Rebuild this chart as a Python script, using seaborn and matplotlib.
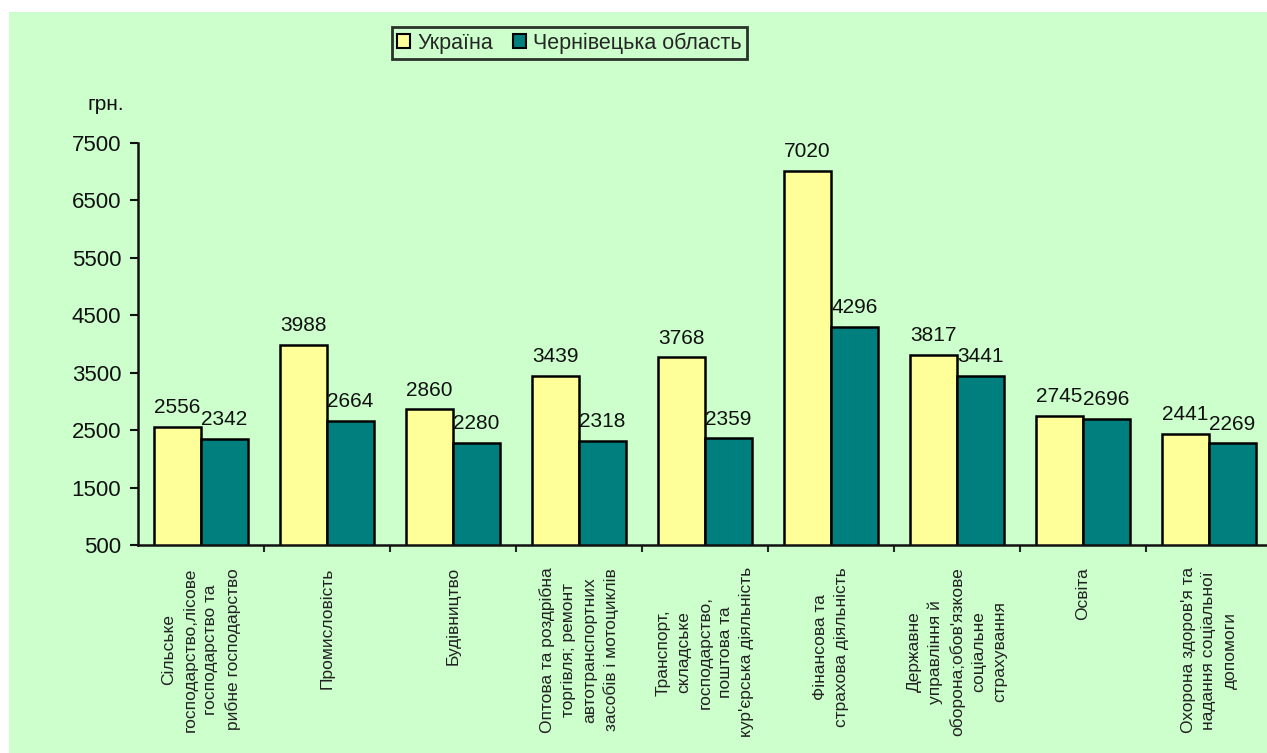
import numpy as np
import pandas as pd
import seaborn as sns
import matplotlib.pyplot as plt
from matplotlib.patches import Rectangle

sectors = [
    "Сільське\nгосподарство,лісове\nгосподарство та\nрибне господарство",
    "Промисловість",
    "Будівництво",
    "Оптова та роздрібна\nторгівля; ремонт\nавтотранспортних\nзасобів і мотоциклів",
    "Транспорт,\nскладське\nгосподарство,\nпоштова та\nкур'єрська діяльність",
    "Фінансова та\nстрахова діяльність",
    "Державне\nуправління й\nоборона;обов'язкове\nсоціальне\nстрахування",
    "Освіта",
    "Охорона здоров'я та\nнадання соціальної\nдопомоги",
]
ukraine = [2556, 3988, 2860, 3439, 3768, 7020, 3817, 2745, 2441]
chernivtsi = [2342, 2664, 2280, 2318, 2359, 4296, 3441, 2696, 2269]
series = ["Україна", "Чернівецька область"]
yticks = [500, 1500, 2500, 3500, 4500, 5500, 6500, 7500]

bg = "#CCFFCC"
colors = ["#FFFF99", "#007F7F"]

df = pd.DataFrame({
    "sector": sectors * 2,
    "value": ukraine + chernivtsi,
    "series": [series[0]] * len(sectors) + [series[1]] * len(sectors),
})

sns.set_style("white")
plt.rcParams['font.family'] = ['Liberation Sans', 'DejaVu Sans']

fig = plt.figure(figsize=(12.67, 7.53), dpi=100, facecolor="white")
fig.patches.append(Rectangle((9 / 1267, 0), 1, 1 - 12 / 753, transform=fig.transFigure,
                             facecolor=bg, edgecolor="none", zorder=-10))
ax = fig.add_axes([138 / 1267, 208 / 753, 1134 / 1267, 402 / 753])
ax.set_facecolor(bg)

sns.barplot(data=df, x="sector", y="value", hue="series", palette=colors, saturation=1,
            width=0.75, edgecolor="black", linewidth=1.8, legend=False, ax=ax)

for cont in ax.containers:
    ax.bar_label(cont, fmt="%d", padding=7, fontsize=15, color="#111111")

ax.set_ylim(500, 7500)
ax.set_xlim(-0.5, len(sectors) - 0.5)
ax.set_yticks(yticks)
ax.tick_params(axis="y", direction="out", length=6, width=1.5, labelsize=16,
               colors="#111111", left=True, pad=6)
ax.set_xticks(np.arange(len(sectors)))
ax.set_xticklabels(sectors, rotation=90, ha="center", va="top", multialignment="center",
                   fontsize=12.5, color="#222222")
for lbl in ax.get_xticklabels():
    lbl.set_linespacing(1.5)
ax.tick_params(axis="x", which="major", length=0, pad=16)
ax.set_xticks(np.arange(len(sectors)) + 0.5, minor=True)
ax.tick_params(axis="x", which="minor", direction="out", length=5, width=1.5, bottom=True)
ax.set_xlabel("")
ax.set_ylabel("")
for s in ["top", "right"]:
    ax.spines[s].set_visible(False)
for s in ["left", "bottom"]:
    ax.spines[s].set_color("#111111")
    ax.spines[s].set_linewidth(1.8)

fig.text(106 / 1267, 1 - 105 / 753, "грн.", ha="center", va="center", fontsize=15,
         color="#111111")

handles = [Rectangle((0, 0), 1, 1, facecolor=c, edgecolor="black", linewidth=1.5) for c in colors]
leg = fig.legend(handles, series, loc="upper left", bbox_to_anchor=(392 / 1267, 1 - 27 / 753),
                 ncol=2, fontsize=15.5, frameon=True, fancybox=False, handlelength=0.6,
                 handleheight=0.6, handletextpad=0.35, columnspacing=0.9, borderpad=0.25,
                 borderaxespad=0, facecolor=bg, edgecolor="black")
leg.get_frame().set_linewidth(2)

fig.savefig("out.png", dpi=100, facecolor=fig.get_facecolor())
